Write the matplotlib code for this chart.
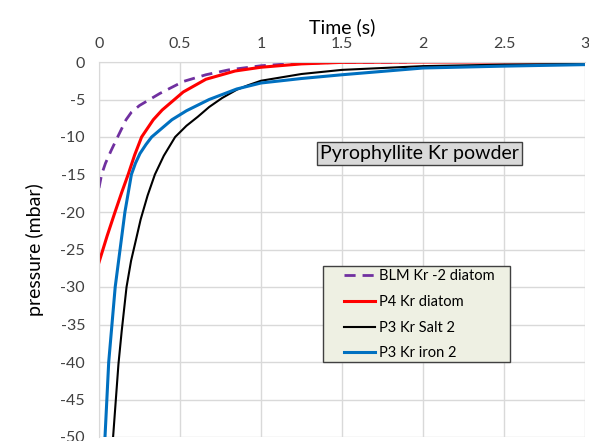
import matplotlib.pyplot as plt
from matplotlib.lines import Line2D
from matplotlib.patches import Rectangle

plt.rcParams['font.family'] = ['Lato', 'DejaVu Sans']

# data (time in s, pressure in mbar)
blm_t = [0.0, 0.016, 0.04, 0.075, 0.115, 0.167, 0.2, 0.25, 0.375, 0.52, 0.66, 0.8, 1.0, 1.2, 1.5, 1.9]
blm_p = [-16.8, -15.0, -13.5, -11.8, -10.0, -7.7, -6.7, -5.8, -4.2, -2.6, -1.7, -1.05, -0.5, -0.2, -0.05, 0.0]

p4_t = [0.0, 0.05, 0.099, 0.14, 0.18, 0.22, 0.263, 0.335, 0.39, 0.52, 0.66, 0.84, 1.0, 1.25, 1.5,
        2.0, 2.5, 3.0]
p4_p = [-26.7, -23.2, -20.0, -17.4, -15.0, -12.4, -10.0, -7.7, -6.4, -4.0, -2.3, -1.2, -0.7, -0.25, -0.05,
        0.0, 0.0, 0.0]

salt_t = [0.087, 0.12, 0.14, 0.17, 0.198, 0.225, 0.257, 0.3, 0.345, 0.4, 0.47, 0.54, 0.61, 0.68,
          0.76, 0.85, 0.92, 1.0, 1.25, 1.5, 2.0, 2.5, 3.0]
salt_p = [-50.0, -40.3, -35.9, -30.0, -26.5, -24.0, -21.0, -17.8, -15.0, -12.5, -10.0, -8.5, -7.3, -6.0,
          -4.8, -3.7, -3.1, -2.5, -1.6, -1.05, -0.55, -0.35, -0.25]

iron_t = [0.037, 0.06, 0.1, 0.13, 0.16, 0.2, 0.225, 0.253, 0.29, 0.325, 0.45, 0.54, 0.68,
          0.85, 1.0, 1.25, 1.5, 2.0, 2.5, 3.0]
iron_p = [-50.0, -40.0, -30.0, -25.0, -20.0, -15.0, -13.5, -12.2, -11.0, -10.0, -7.7, -6.5, -5.0,
          -3.6, -2.8, -2.2, -1.7, -0.8, -0.55, -0.35]

series = [
    ("BLM Kr -2 diatom", blm_t, blm_p, '#7030a0', (0, (4, 2.5)), 2.0),
    ("P4 Kr diatom", p4_t, p4_p, '#ff0000', '-', 2.2),
    ("P3 Kr Salt 2", salt_t, salt_p, '#000000', '-', 1.5),
    ("P3 Kr iron 2", iron_t, iron_p, '#0070c0', '-', 2.2),
]

x_ticks = [0, 0.5, 1, 1.5, 2, 2.5, 3]
x_labels = ['0', '0.5', '1', '1.5', '2', '2.5', '3']
y_ticks = list(range(0, -55, -5))

fig = plt.figure(figsize=(5.89, 4.41), dpi=100)
ax = fig.add_axes([99 / 589, 1 - 437 / 441, (585 - 99) / 589, (437 - 62) / 441])

handles = []
for name, t, p, col, ls, lw in series:
    ax.plot(t, p, color=col, linestyle=ls, linewidth=lw, solid_joinstyle='round')
    handles.append(Line2D([], [], color=col, linestyle=ls, linewidth=lw, label=name))

ax.set_xlim(0, 3)
ax.set_ylim(-50, 0)
ax.set_xticks(x_ticks)
ax.set_xticklabels(x_labels)
ax.set_yticks(y_ticks)
ax.set_yticklabels([str(v) for v in y_ticks])
ax.xaxis.tick_top()
ax.xaxis.set_label_position('top')
ax.tick_params(length=0, labelsize=11.5, colors='#404040', pad=8)
ax.tick_params(axis='y', pad=10)
ax.grid(True, color='#d9d9d9', linewidth=1)
ax.set_axisbelow(True)
for s in ['right', 'bottom']:
    ax.spines[s].set_visible(False)
for s in ['left', 'top']:
    ax.spines[s].set_color('#d9d9d9')

ax.set_xlabel('Time (s)', fontsize=14, labelpad=3)
ax.set_ylabel('pressure (mbar)', fontsize=14, labelpad=12)

ax.text(0.66, 0.755, 'Pyrophyllite Kr powder', transform=ax.transAxes, fontsize=14,
        ha='center', va='center',
        bbox=dict(boxstyle='square,pad=0.15', facecolor='#d9d9d9', edgecolor='#404040', linewidth=1))

# legend box drawn separately so the padding matches the reference
ax.add_patch(Rectangle((0.461, 0.2), 0.385, 0.256, transform=ax.transAxes,
                       facecolor='#eef0e3', edgecolor='#404040', linewidth=1, zorder=4))
leg = ax.legend(handles=handles, loc='upper left', bbox_to_anchor=(0.505, 0.447),
                fontsize=10.5, frameon=False, handlelength=2.1, borderpad=0, borderaxespad=0,
                labelspacing=0.8, handletextpad=0.25)
leg.set_zorder(5)

fig.savefig('out.png', dpi=100)
